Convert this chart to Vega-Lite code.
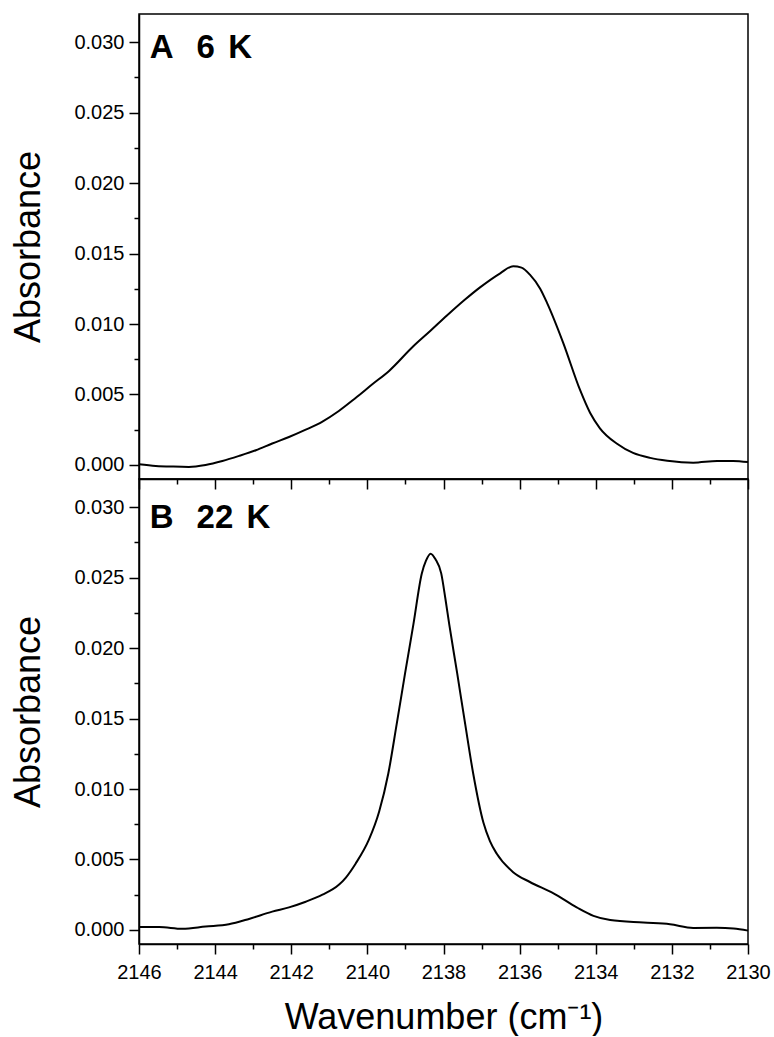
{
  "$schema": "https://vega.github.io/schema/vega-lite/v6.json",
  "padding": {"left": 10, "top": 13, "right": 20, "bottom": 0},
  "background": "white",
  "config": {
    "font": "Liberation Sans",
    "view": {"stroke": "black", "strokeWidth": 1.5},
    "axis": {
      "domainColor": "black", "domainWidth": 1.5,
      "tickColor": "black", "tickWidth": 1.5,
      "labelColor": "black", "titleColor": "black",
      "labelFont": "Liberation Sans", "titleFont": "Liberation Sans",
      "labelFontSize": 20, "titleFontSize": 36, "titleFontWeight": "normal",
      "labelFlush": false, "labelOverlap": false,
      "grid": false
    }
  },
  "datasets": {
    "a": [
      {"wavenumber": 2146.0, "absorbance": 0.00005},
      {"wavenumber": 2145.56, "absorbance": -0.00007},
      {"wavenumber": 2145.1, "absorbance": -0.00012},
      {"wavenumber": 2144.69, "absorbance": -0.00014},
      {"wavenumber": 2144.25, "absorbance": 0.0},
      {"wavenumber": 2143.81, "absorbance": 0.00028},
      {"wavenumber": 2143.37, "absorbance": 0.00064},
      {"wavenumber": 2142.93, "absorbance": 0.00104},
      {"wavenumber": 2142.5, "absorbance": 0.00152},
      {"wavenumber": 2142.06, "absorbance": 0.00198},
      {"wavenumber": 2141.62, "absorbance": 0.0025},
      {"wavenumber": 2141.18, "absorbance": 0.00308},
      {"wavenumber": 2140.75, "absorbance": 0.00383},
      {"wavenumber": 2140.31, "absorbance": 0.00475},
      {"wavenumber": 2139.87, "absorbance": 0.00572},
      {"wavenumber": 2139.43, "absorbance": 0.00667},
      {"wavenumber": 2138.8, "absorbance": 0.0084},
      {"wavenumber": 2138.35, "absorbance": 0.0095},
      {"wavenumber": 2137.91, "absorbance": 0.0106},
      {"wavenumber": 2137.45, "absorbance": 0.0117},
      {"wavenumber": 2137.04, "absorbance": 0.0126},
      {"wavenumber": 2136.51, "absorbance": 0.0136},
      {"wavenumber": 2136.17, "absorbance": 0.0141},
      {"wavenumber": 2135.95, "absorbance": 0.014},
      {"wavenumber": 2135.73, "absorbance": 0.0135},
      {"wavenumber": 2135.46, "absorbance": 0.0125},
      {"wavenumber": 2135.28, "absorbance": 0.0115},
      {"wavenumber": 2134.86, "absorbance": 0.0087},
      {"wavenumber": 2134.41, "absorbance": 0.0053},
      {"wavenumber": 2134.15, "absorbance": 0.0037},
      {"wavenumber": 2133.89, "absorbance": 0.0026},
      {"wavenumber": 2133.44, "absorbance": 0.0015},
      {"wavenumber": 2133.02, "absorbance": 0.00085},
      {"wavenumber": 2132.57, "absorbance": 0.0005},
      {"wavenumber": 2132.12, "absorbance": 0.0003},
      {"wavenumber": 2131.44, "absorbance": 0.00016},
      {"wavenumber": 2130.81, "absorbance": 0.00028},
      {"wavenumber": 2130.39, "absorbance": 0.00028},
      {"wavenumber": 2130.0, "absorbance": 0.0002}
    ],
    "b": [
      {"wavenumber": 2146.0, "absorbance": 0.0002},
      {"wavenumber": 2145.47, "absorbance": 0.0002},
      {"wavenumber": 2144.86, "absorbance": 0.00008},
      {"wavenumber": 2144.25, "absorbance": 0.00024},
      {"wavenumber": 2143.64, "absorbance": 0.0004},
      {"wavenumber": 2143.11, "absorbance": 0.00078},
      {"wavenumber": 2142.5, "absorbance": 0.0013},
      {"wavenumber": 2142.06, "absorbance": 0.0016},
      {"wavenumber": 2141.62, "absorbance": 0.002},
      {"wavenumber": 2141.18, "absorbance": 0.0025},
      {"wavenumber": 2140.75, "absorbance": 0.0032},
      {"wavenumber": 2140.57, "absorbance": 0.0037},
      {"wavenumber": 2140.31, "absorbance": 0.0047},
      {"wavenumber": 2139.96, "absorbance": 0.0064},
      {"wavenumber": 2139.69, "absorbance": 0.0084},
      {"wavenumber": 2139.45, "absorbance": 0.0111},
      {"wavenumber": 2139.23, "absorbance": 0.0146},
      {"wavenumber": 2139.01, "absorbance": 0.0182},
      {"wavenumber": 2138.79, "absorbance": 0.0217},
      {"wavenumber": 2138.57, "absorbance": 0.0253},
      {"wavenumber": 2138.46, "absorbance": 0.0262},
      {"wavenumber": 2138.34, "absorbance": 0.0267},
      {"wavenumber": 2138.21, "absorbance": 0.0263},
      {"wavenumber": 2138.06, "absorbance": 0.0253},
      {"wavenumber": 2137.95, "absorbance": 0.0235},
      {"wavenumber": 2137.85, "absorbance": 0.0217},
      {"wavenumber": 2137.64, "absorbance": 0.0182},
      {"wavenumber": 2137.43, "absorbance": 0.0146},
      {"wavenumber": 2137.22, "absorbance": 0.0111},
      {"wavenumber": 2136.95, "absorbance": 0.0076},
      {"wavenumber": 2136.78, "absorbance": 0.0063},
      {"wavenumber": 2136.6, "absorbance": 0.0054},
      {"wavenumber": 2136.17, "absorbance": 0.0041},
      {"wavenumber": 2135.73, "absorbance": 0.0034},
      {"wavenumber": 2135.11, "absorbance": 0.0026},
      {"wavenumber": 2134.5, "absorbance": 0.0016},
      {"wavenumber": 2134.06, "absorbance": 0.001},
      {"wavenumber": 2133.62, "absorbance": 0.0007},
      {"wavenumber": 2132.75, "absorbance": 0.00052},
      {"wavenumber": 2132.05, "absorbance": 0.0004},
      {"wavenumber": 2131.44, "absorbance": 0.00014},
      {"wavenumber": 2130.82, "absorbance": 0.00015},
      {"wavenumber": 2130.38, "absorbance": 0.0001},
      {"wavenumber": 2130.0, "absorbance": -0.00005}
    ]
  },
  "spacing": 0,
  "bounds": "flush",
  "vconcat": [
    {
      "width": 609,
      "height": 465,
      "layer": [
        {
          "data": {"name": "a"},
          "mark": {"type": "line", "color": "black", "strokeWidth": 2, "interpolate": "monotone"},
          "encoding": {
            "x": {"field": "wavenumber", "type": "quantitative",
              "scale": {"domain": [2130, 2146], "reverse": true, "nice": false, "zero": false},
              "axis": {"values": [2130, 2132, 2134, 2136, 2138, 2140, 2142, 2144, 2146], "labels": false, "title": null, "tickSize": 10, "orient": "bottom"}},
            "y": {"field": "absorbance", "type": "quantitative",
              "scale": {"domain": [-0.001, 0.032], "nice": false, "zero": false},
              "axis": {"values": [0, 0.005, 0.01, 0.015, 0.02, 0.025, 0.03], "format": ".3f", "tickSize": 10, "labelPadding": 5, "title": "Absorbance", "titlePadding": 26, "orient": "left"}}
          }
        },
        {
          "data": {"values": [{"label": "A\u2002\u20096\u2009\u2009K"}]},
          "mark": {"type": "text", "font": "Liberation Sans", "fontSize": 33, "fontWeight": "bold", "align": "left", "baseline": "alphabetic", "color": "black"},
          "encoding": {
            "text": {"field": "label"},
            "x": {"datum": 2145.72, "type": "quantitative",
              "axis": {"values": [2131, 2133, 2135, 2137, 2139, 2141, 2143, 2145], "labels": false, "domain": false, "title": null, "tickSize": 5, "orient": "bottom"}},
            "y": {"datum": 0.0289, "type": "quantitative",
              "axis": {"values": [0.0025, 0.0075, 0.0125, 0.0175, 0.0225, 0.0275], "labels": false, "domain": false, "title": null, "tickSize": 5, "orient": "left"}}
          }
        }
      ],
      "resolve": {"axis": {"x": "independent", "y": "independent"}}
    },
    {
      "width": 609,
      "height": 465,
      "layer": [
        {
          "data": {"name": "b"},
          "mark": {"type": "line", "color": "black", "strokeWidth": 2, "interpolate": "monotone"},
          "encoding": {
            "x": {"field": "wavenumber", "type": "quantitative",
              "scale": {"domain": [2130, 2146], "reverse": true, "nice": false, "zero": false},
              "axis": {"values": [2130, 2132, 2134, 2136, 2138, 2140, 2142, 2144, 2146], "format": "d", "tickSize": 10, "labelPadding": 8, "title": "Wavenumber (cm⁻¹)", "titlePadding": 18, "orient": "bottom"}},
            "y": {"field": "absorbance", "type": "quantitative",
              "scale": {"domain": [-0.001, 0.032], "nice": false, "zero": false},
              "axis": {"values": [0, 0.005, 0.01, 0.015, 0.02, 0.025, 0.03], "format": ".3f", "tickSize": 10, "labelPadding": 5, "title": "Absorbance", "titlePadding": 26, "orient": "left"}}
          }
        },
        {
          "data": {"values": [{"label": "B\u2002\u200922\u2009\u2009K"}]},
          "mark": {"type": "text", "font": "Liberation Sans", "fontSize": 33, "fontWeight": "bold", "align": "left", "baseline": "alphabetic", "color": "black"},
          "encoding": {
            "text": {"field": "label"},
            "x": {"datum": 2145.72, "type": "quantitative",
              "axis": {"values": [2131, 2133, 2135, 2137, 2139, 2141, 2143, 2145], "labels": false, "domain": false, "title": null, "tickSize": 5, "orient": "bottom"}},
            "y": {"datum": 0.0285, "type": "quantitative",
              "axis": {"values": [0.0025, 0.0075, 0.0125, 0.0175, 0.0225, 0.0275], "labels": false, "domain": false, "title": null, "tickSize": 5, "orient": "left"}}
          }
        }
      ],
      "resolve": {"axis": {"x": "independent", "y": "independent"}}
    }
  ]
}
